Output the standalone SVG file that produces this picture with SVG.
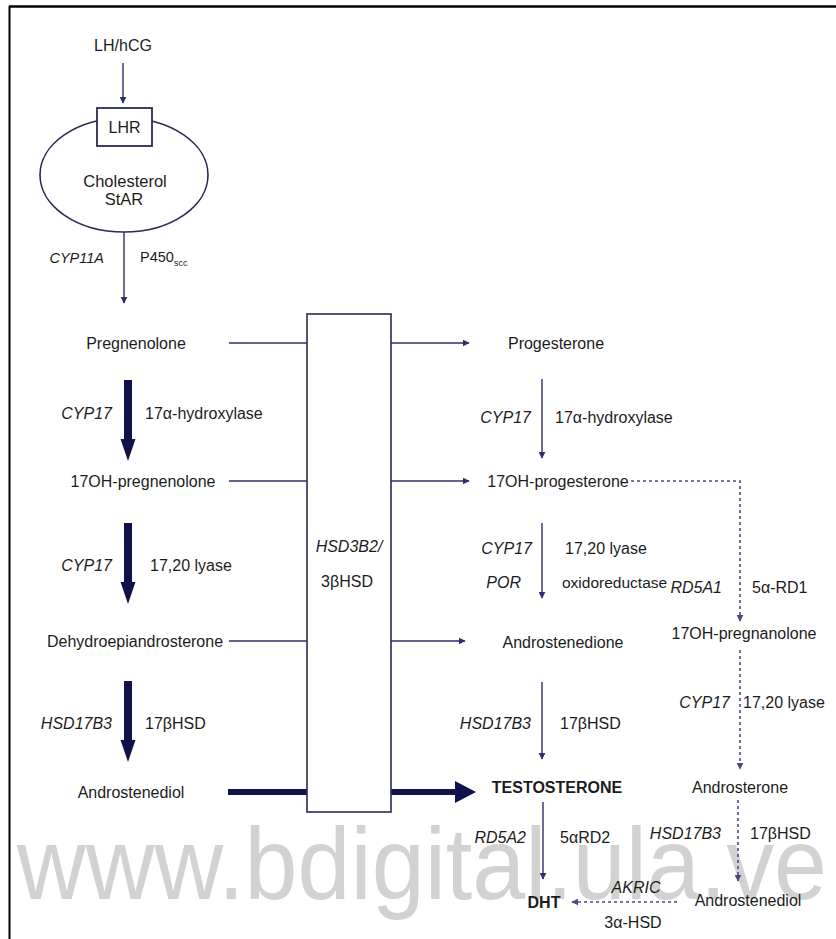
<svg xmlns="http://www.w3.org/2000/svg" width="836" height="939" viewBox="0 0 836 939">
<defs>
<style>
text{font-family:"Liberation Sans",Arial,sans-serif;font-size:16px;fill:#1c1c1c}
.i{font-style:italic}
.b{font-weight:bold}
.m{text-anchor:middle}
.e{text-anchor:end}
.thin{stroke:#2e2e6a;stroke-width:1.4;fill:none}
.dot{stroke:#4a4a80;stroke-width:1.6;fill:none;stroke-dasharray:3 3}
.thick{fill:#12124a}
.wm{font-size:102px;fill:#d2d2d2}
</style>
<marker id="ah" viewBox="0 0 10 10" refX="9" refY="5" markerWidth="7" markerHeight="7" markerUnits="userSpaceOnUse" orient="auto">
<path d="M0,0 L10,5 L0,10 z" fill="#2e2e6a"/>
</marker>
<marker id="ahd" viewBox="0 0 10 10" refX="9" refY="5" markerWidth="7" markerHeight="7" markerUnits="userSpaceOnUse" orient="auto">
<path d="M0,0 L10,5 L0,10 z" fill="#4a4a80"/>
</marker>
</defs>
<rect width="836" height="939" fill="#ffffff"/>
<text class="wm" x="17" y="899" textLength="810" lengthAdjust="spacingAndGlyphs">www.bdigital.ula.ve</text>
<g id="frame" stroke="#000" fill="none">
<line x1="9" y1="6.5" x2="836" y2="6.5" stroke-width="2.5"/>
<line x1="9.5" y1="6" x2="9.5" y2="939" stroke-width="2"/>
</g>
<g id="connectors">
<line class="thin" x1="123" y1="63" x2="123" y2="103" marker-end="url(#ah)"/>
<line class="thin" x1="124" y1="232" x2="124" y2="303" marker-end="url(#ah)"/>
<line class="thin" x1="229" y1="343" x2="307" y2="343"/>
<line class="thin" x1="391" y1="343" x2="469" y2="343" marker-end="url(#ah)"/>
<line class="thin" x1="229" y1="481" x2="307" y2="481"/>
<line class="thin" x1="391" y1="481" x2="469" y2="481" marker-end="url(#ah)"/>
<line class="thin" x1="229" y1="641" x2="307" y2="641"/>
<line class="thin" x1="391" y1="641" x2="465" y2="641" marker-end="url(#ah)"/>
<polygon class="thick" points="124,380 132,380 132,439 135.5,439 128,461 120.5,439 124,439"/>
<polygon class="thick" points="124,523 132,523 132,582 135.5,582 128,604 120.5,582 124,582"/>
<polygon class="thick" points="124,681 132,681 132,740 135.5,740 128,762 120.5,740 124,740"/>
<line x1="228" y1="792" x2="307" y2="792" stroke="#12124a" stroke-width="6"/>
<line x1="391" y1="792" x2="457" y2="792" stroke="#12124a" stroke-width="6"/>
<polygon class="thick" points="455,781 476,792 455,803"/>
<line class="thin" x1="542" y1="379" x2="542" y2="458" marker-end="url(#ah)"/>
<line class="thin" x1="542" y1="523" x2="542" y2="598" marker-end="url(#ah)"/>
<line class="thin" x1="542" y1="682" x2="542" y2="759" marker-end="url(#ah)"/>
<line class="thin" x1="543" y1="802" x2="543" y2="879" marker-end="url(#ah)"/>
<path class="dot" d="M631,481 H740 V621" marker-end="url(#ahd)"/>
<line class="dot" x1="740" y1="650" x2="740" y2="769" marker-end="url(#ahd)"/>
<line class="dot" x1="738" y1="800" x2="738" y2="881" marker-end="url(#ahd)"/>
<line class="dot" x1="677" y1="902" x2="572" y2="902" marker-end="url(#ahd)"/>
</g>
<g id="n-lhhcg"><text class="m" x="123" y="51">LH/hCG</text></g>
<g id="n-cell">
<ellipse cx="124" cy="175" rx="84" ry="57" fill="#fff" stroke="#2a2a5a" stroke-width="1.6"/>
<text class="m" x="125" y="187" style="font-size:16.5px">Cholesterol</text>
<text class="m" x="124" y="205" style="font-size:16.5px">StAR</text>
</g>
<g id="n-lhr">
<rect x="97" y="108" width="55" height="38" fill="#fff" stroke="#2a2a5a" stroke-width="1.8"/>
<text class="m" x="124.5" y="133">LHR</text>
</g>
<g id="l-cyp11a">
<text class="i e" x="104" y="263" style="font-size:14.5px">CYP11A</text>
<text x="140" y="262" style="font-size:14.5px">P450<tspan dy="4" style="font-size:9px">scc</tspan></text>
</g>
<g id="n-hsd3b2">
<rect x="307" y="314" width="84" height="498" fill="#fff" stroke="#2a2a55" stroke-width="1.6"/>
<text class="i m" x="349" y="552">HSD3B2/</text>
<text class="m" x="347" y="587">3βHSD</text>
</g>
<g id="n-pregnenolone"><text class="m" x="136" y="349">Pregnenolone</text></g>
<g id="n-17ohpreg"><text class="m" x="143" y="487">17OH-pregnenolone</text></g>
<g id="n-dhea"><text class="m" x="135" y="647">Dehydroepiandrosterone</text></g>
<g id="n-androstenediol1"><text class="m" x="131" y="798">Androstenediol</text></g>
<g id="l-left">
<text class="i e" x="112" y="419">CYP17</text>
<text x="145" y="419">17α-hydroxylase</text>
<text class="i e" x="112" y="571">CYP17</text>
<text x="150" y="571">17,20 lyase</text>
<text class="i e" x="112" y="729">HSD17B3</text>
<text x="145" y="729">17βHSD</text>
</g>
<g id="n-progesterone"><text class="m" x="556" y="349">Progesterone</text></g>
<g id="n-17ohprog"><text class="m" x="558" y="487">17OH-progesterone</text></g>
<g id="n-androstenedione"><text class="m" x="563" y="648">Androstenedione</text></g>
<g id="n-testosterone"><text class="b m" x="557" y="793">TESTOSTERONE</text></g>
<g id="n-dht"><text class="b m" x="544" y="908">DHT</text></g>
<g id="n-17ohpregnanolone"><text class="m" x="744" y="639">17OH-pregnanolone</text></g>
<g id="n-androsterone"><text class="m" x="740" y="793">Androsterone</text></g>
<g id="n-androstenediol2"><text class="m" x="748" y="906">Androstenediol</text></g>
<g id="l-right">
<text class="i e" x="531" y="423">CYP17</text>
<text x="555" y="423">17α-hydroxylase</text>
<text class="i e" x="532" y="554">CYP17</text>
<text x="565" y="554">17,20 lyase</text>
<text class="i e" x="521" y="588">POR</text>
<text x="562" y="588" style="font-size:15.5px">oxidoreductase</text>
<text class="i e" x="722" y="593">RD5A1</text>
<text x="752" y="593">5α-RD1</text>
<text class="i e" x="531" y="729">HSD17B3</text>
<text x="560" y="729">17βHSD</text>
<text class="i e" x="526" y="843">RD5A2</text>
<text x="560" y="843">5αRD2</text>
<text class="i e" x="730" y="708">CYP17</text>
<text x="743" y="708">17,20 lyase</text>
<text class="i e" x="721" y="839">HSD17B3</text>
<text x="750" y="839">17βHSD</text>
<text class="i m" x="636" y="893">AKRIC</text>
<text class="m" x="633" y="928">3α-HSD</text>
</g>
</svg>
